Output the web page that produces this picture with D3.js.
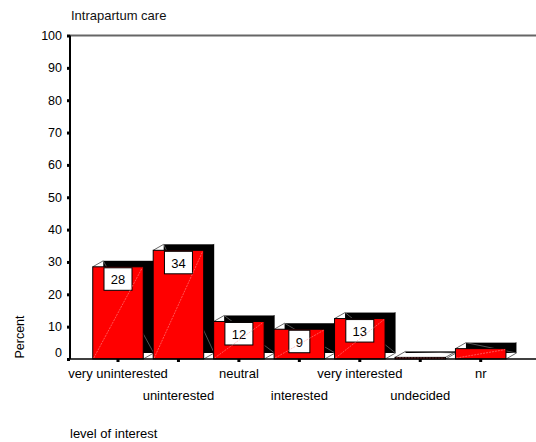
<!DOCTYPE html>
<html><head><meta charset="utf-8">
<script src="https://cdn.jsdelivr.net/npm/d3@7"></script>
<style>
html,body{margin:0;padding:0;background:#fff;}
svg{display:block;font-family:"Liberation Sans",Arial,sans-serif;}
</style></head>
<body>
<svg id="c" width="536" height="442"></svg>
<script>
const categories = ["very uninterested","uninterested","neutral","interested","very interested","undecided","nr"];
const percentValues = [28.5, 33.6, 11.6, 9.2, 12.5, 0.5, 3.2];
const valueLabels = ["28","34","12","9","13",null,null];
const yTicks = [0,10,20,30,40,50,60,70,80,90,100];
const chartTitle = "Intrapartum care";
const xTitle = "level of interest";
const yTitle = "Percent";

(function(){
const svg = d3.select("#c");
const pLeft = 70, pRight = 536, pTop = 35.5, pBottom = 359;
const x = d3.scalePoint().domain(categories).range([118, 480.7]);
const bw = 50.5;
const y = d3.scaleLinear().domain([0,100]).range([pBottom, pTop]);
const dx = 10.5, dy = -6;

svg.append("text").attr("x",71).attr("y",19.5).attr("font-size",13).attr("fill","#111").text(chartTitle);

svg.append("line").attr("x1",pLeft).attr("x2",pRight).attr("y1",pTop).attr("y2",pTop)
  .attr("stroke","#666").attr("stroke-width",2);

const g = svg.append("g");
categories.forEach((c,i)=>{
  const v = percentValues[i];
  const x0 = x(c)-bw/2, x1 = x(c)+bw/2, yt = y(v), yb = y(0);
  [[x0,yt],[x1,yt],[x1,yb]].forEach(p=>{
    g.append("line").attr("x1",p[0]).attr("y1",p[1]).attr("x2",p[0]+dx).attr("y2",p[1]+dy)
      .attr("stroke","#444").attr("stroke-width",0.8);
  });
  g.append("rect").attr("x",x0+dx).attr("y",yt+dy).attr("width",bw).attr("height",Math.max(yb-yt,1.2))
    .attr("fill","#000");
  g.append("line").attr("x1",x0+dx).attr("y1",yt+dy).attr("x2",x1+dx).attr("y2",yb+dy)
    .attr("stroke","#777").attr("stroke-width",0.7);
});
categories.forEach((c,i)=>{
  const v = percentValues[i];
  const x0 = x(c)-bw/2, yt = y(v), yb = y(0);
  g.append("rect").attr("x",x0).attr("y",yt).attr("width",bw).attr("height",yb-yt)
    .attr("fill","#ff0000").attr("stroke","#000").attr("stroke-width",1);
});
categories.forEach((c,i)=>{
  const lab = valueLabels[i];
  if(!lab) return;
  const yt = y(percentValues[i]);
  const w = lab.length*7+14;
  g.append("rect").attr("x",x(c)-w/2).attr("y",yt+1).attr("width",w).attr("height",22.5)
    .attr("fill","#fff").attr("stroke","#000").attr("stroke-width",1);
  g.append("text").attr("x",x(c)).attr("y",yt+17.5).attr("text-anchor","middle")
    .attr("font-size",13).attr("fill","#000").text(lab);
});
categories.forEach((c,i)=>{
  const v = percentValues[i];
  const x0 = x(c)-bw/2, x1 = x(c)+bw/2;
  g.append("line").attr("x1",x0+1).attr("y1",y(0)-1).attr("x2",x1-1).attr("y2",y(v)+1)
    .attr("stroke","#ff9a9a").attr("stroke-width",0.7).attr("stroke-dasharray","2,1").attr("opacity",0.8);
});

const ya = svg.append("g").attr("transform",`translate(${pLeft},0)`)
  .call(d3.axisLeft(y).tickValues(yTicks).tickSize(3).tickPadding(5).tickFormat(d3.format("d")));
ya.select(".domain").attr("stroke","#000").attr("stroke-width",2).attr("d",`M0,${pTop}V${pBottom}`);
ya.selectAll(".tick line").attr("stroke","#000").attr("stroke-width",3);
ya.selectAll(".tick text").attr("font-size",12.5).attr("fill","#000").attr("font-family","Liberation Sans, Arial, sans-serif");
ya.selectAll(".tick").filter(d=>d===0).select("text").attr("dy","-0.2em");

svg.append("line").attr("x1",pLeft-1).attr("x2",pRight).attr("y1",pBottom).attr("y2",pBottom)
  .attr("stroke","#000").attr("stroke-width",1.6);
categories.forEach((c,i)=>{
  svg.append("rect").attr("x",x(c)-1.5).attr("y",pBottom).attr("width",3).attr("height",3).attr("fill","#000");
  svg.append("text").attr("x",x(c)).attr("y", i%2===0 ? 377.5 : 400).attr("text-anchor","middle")
    .attr("font-size",13).attr("fill","#000").text(c);
});

svg.append("text").attr("x",70).attr("y",437.5).attr("font-size",13).attr("fill","#000").text(xTitle);
svg.append("text").attr("transform","translate(24,337) rotate(-90)").attr("text-anchor","middle")
  .attr("font-size",12.5).attr("fill","#000").text(yTitle);
})();
</script>
</body></html>
